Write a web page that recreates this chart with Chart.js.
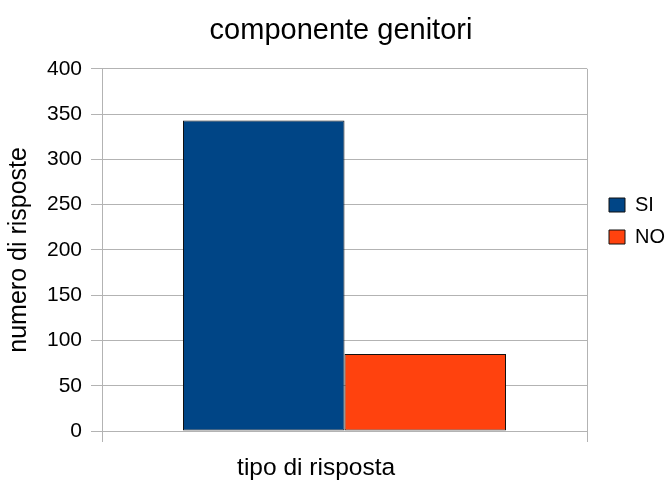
<!DOCTYPE html>
<html>
<head>
<meta charset="utf-8">
<script src="https://cdn.jsdelivr.net/npm/chart.js@4"></script>
<style>
  html, body { margin: 0; padding: 0; background: #fff; }
  #wrap { width: 669px; height: 484px; }
</style>
</head>
<body>
<div id="wrap"><canvas id="barChart" width="669" height="484"></canvas></div>
<script>
"use strict";

// Dati del grafico
const categorie = [""];
const serieNomi = ["SI", "NO"];
const valoriSI = [343];
const valoriNO = [85];
const colori = ["#004586", "#ff420e"];
const tickY = [0, 50, 100, 150, 200, 250, 300, 350, 400];
const titoloX = "tipo di risposta";

Chart.defaults.font.family = "'Liberation Sans', Arial, sans-serif";
Chart.defaults.color = "#000";

// Titolo asse X (centrato come nell'originale, a sinistra del centro del grafico)
const titoloAsseX = {
  id: 'titoloAsseX',
  afterDraw(chart) {
    const c = chart.ctx;
    c.save();
    c.font = "24.5px 'Liberation Sans', Arial, sans-serif";
    c.fillStyle = '#000';
    c.textAlign = 'center';
    c.textBaseline = 'middle';
    c.fillText(titoloX, chart.width * 0.4725, chart.chartArea.bottom + 37);
    c.restore();
  }
};

// Sposta un po' la legenda verso destra
const spostaLegenda = {
  id: 'spostaLegenda',
  afterLayout(chart) {
    if (chart.legend) {
      chart.legend.left += 10;
      chart.legend.right += 10;
    }
  }
};

const ctx = document.getElementById('barChart');

const barChart = new Chart(ctx, {
  type: 'bar',
  data: {
    labels: categorie,
    datasets: [
      {
        label: serieNomi[0],
        data: valoriSI,
        backgroundColor: colori[0],
        borderColor: '#111',
        borderWidth: 1,
        borderSkipped: false,
        categoryPercentage: 0.666,
        barPercentage: 1
      },
      {
        label: serieNomi[1],
        data: valoriNO,
        backgroundColor: colori[1],
        borderColor: '#111',
        borderWidth: 1,
        borderSkipped: false,
        categoryPercentage: 0.666,
        barPercentage: 1
      }
    ]
  },
  options: {
    responsive: false,
    animation: false,
    layout: { padding: { left: 17, right: 4, top: 0, bottom: 42 } },
    plugins: {
      title: {
        display: true,
        text: 'componente genitori',
        font: { size: 29, weight: 'normal' },
        padding: { top: 14, bottom: 20 }
      },
      legend: {
        position: 'right',
        align: 'center',
        labels: {
          boxWidth: 16,
          boxHeight: 14,
          padding: 12,
          font: { size: 20 },
          color: '#000'
        }
      },
      tooltip: { enabled: false }
    },
    scales: {
      x: {
        offset: true,
        grid: {
          offset: true,
          drawOnChartArea: true,
          color: '#b3b3b3',
          tickLength: 11
        },
        border: { color: '#b3b3b3' },
        ticks: { display: false }
      },
      y: {
        min: 0,
        max: 400,
        afterBuildTicks: (axis) => { axis.ticks = tickY.map(v => ({ value: v })); },
        afterFit: (scale) => { scale.width = 85; },
        grid: { color: '#b3b3b3', tickLength: 11 },
        border: { color: '#b3b3b3' },
        ticks: { font: { size: 21 }, padding: 9 },
        title: {
          display: true,
          text: 'numero di risposte',
          font: { size: 25, lineHeight: 1 },
          padding: { top: -10, bottom: 0 }
        }
      }
    }
  },
  plugins: [titoloAsseX, spostaLegenda]
});
</script>
</body>
</html>
